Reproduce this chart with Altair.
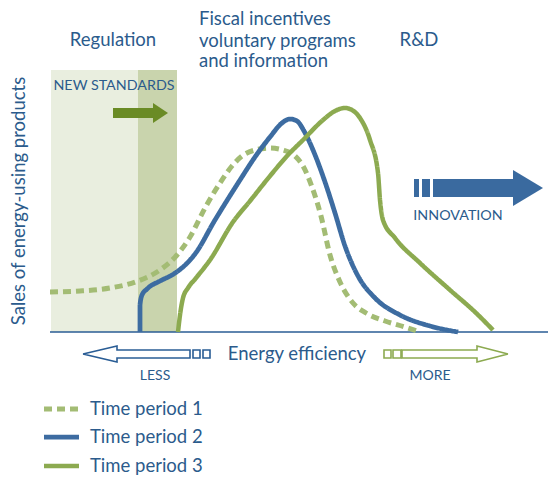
import altair as alt
import pandas as pd

# ---------------- data (pixel-like units) ----------------
series = ["Time period 1", "Time period 2", "Time period 3"]
colors = ["#a3bc74", "#3d6ca1", "#8caa50"]
dashes = [[8, 5], [1, 0], [1, 0]]
widths = [5, 4.5, 4]

p1_x = [50, 80, 110, 138, 160, 177, 190, 205, 220, 232, 242, 255, 270, 283, 295, 303, 312, 321, 330, 340, 353, 366, 385, 405, 420]
p1_y = [292, 291, 288, 281, 270, 255, 237, 208, 183, 166, 156, 150, 148, 150, 156, 166, 187, 216, 255, 282, 303, 313, 321, 327, 332]

p2_x = [140, 140, 142, 147, 160, 172, 183, 195, 215, 240, 255, 270, 282, 290, 297, 304, 313, 325, 335, 345, 358, 375, 400, 430, 458]
p2_y = [332, 305, 295, 289, 281, 275, 267, 254, 220, 180, 157, 137, 123, 119, 121, 131, 150, 182, 213, 246, 276, 298, 315, 326, 332]

p3_x = [178, 180, 183, 188, 196, 210, 233, 250, 270, 287, 303, 323, 335, 345, 352, 360, 370, 378, 380, 383, 395, 420, 450, 475, 493]
p3_y = [332, 315, 298, 288, 278, 260, 222, 201, 176, 156, 140, 120, 111, 108, 110, 118, 140, 173, 200, 220, 238, 263, 290, 312, 330]

curve_x = [p1_x, p2_x, p3_x]
curve_y = [p1_y, p2_y, p3_y]

# shaded regulation bands
band_x1 = [51, 138]
band_x2 = [138, 177]
band_y1 = [70, 70]
band_y2 = [332, 332]
band_col = ["#e9eedf", "#c9d4ad"]

# labels
lab_text = ["Regulation", "NEW STANDARDS", "R&D", "INNOVATION", "Energy efficiency", "LESS", "MORE"]
lab_x = [113, 114, 419, 458, 297, 155, 430]
lab_y = [40, 86, 40, 216, 354, 376, 376]
lab_size = [18.5, 14.3, 18.5, 14.3, 18.5, 14, 14]

left_text = ["Fiscal incentives", "voluntary programs", "and information"]
left_x = [199, 199, 199]
left_y = [25, 46.5, 67]   # text baselines

legend_y = [409, 437, 466]

# ---------------- frames ----------------
curves = pd.DataFrame([
    dict(series=s, x=x, y=y, i=i)
    for s, xs, ys in zip(series, curve_x, curve_y)
    for i, (x, y) in enumerate(zip(xs, ys))
])
bands = pd.DataFrame(dict(x=band_x1, x2=band_x2, y=band_y1, y2=band_y2, c=band_col))
labels = pd.DataFrame(dict(t=lab_text, x=lab_x, y=lab_y, s=lab_size))
lefts = pd.DataFrame(dict(t=left_text, x=left_x, y=left_y))
leg_lines = pd.DataFrame([
    dict(series=s, x=x, y=y) for s, y in zip(series, legend_y) for x in (44, 79)
])
leg_text = pd.DataFrame(dict(t=series, x=[90] * 3, y=legend_y))

X = alt.Scale(domain=[8, 548])
Y = alt.Scale(domain=[8, 478], reverse=True)
TXT = "#2b5b8c"
FONT = "Lato"
BIG = 18.5

def xq(f="x"):
    return alt.X(f"{f}:Q", scale=X, axis=None)

def yq(f="y"):
    return alt.Y(f"{f}:Q", scale=Y, axis=None)

band_layer = alt.Chart(bands).mark_rect().encode(
    x=xq(), x2="x2:Q", y=yq(), y2="y2:Q", color=alt.Color("c:N", scale=None)
)

baseline = alt.Chart(pd.DataFrame(dict(x=[50], x2=[556], y=[332]))).mark_rule(
    color="#2a5d95", strokeWidth=1.5
).encode(x=xq(), x2="x2:Q", y=yq())

enc_series = dict(
    color=alt.Color("series:N", scale=alt.Scale(domain=series, range=colors), legend=None),
    strokeDash=alt.StrokeDash("series:N", scale=alt.Scale(domain=series, range=dashes), legend=None),
    strokeWidth=alt.StrokeWidth("series:N", scale=alt.Scale(domain=series, range=widths), legend=None),
)

curve_layer = alt.Chart(curves).mark_line(interpolate="monotone").encode(
    x=xq(), y=yq(), order="i:Q", detail="series:N", **enc_series
)

leg_line_layer = alt.Chart(leg_lines).mark_line().encode(
    x=xq(), y=yq(), detail="series:N", **enc_series
)
leg_text_layer = alt.Chart(leg_text).mark_text(
    align="left", baseline="middle", font=FONT, fontSize=BIG, color=TXT
).encode(x=xq(), y=yq(), text="t:N")

label_layer = alt.Chart(labels).mark_text(
    align="center", baseline="middle", font=FONT, color=TXT
).encode(x=xq(), y=yq(), text="t:N", size=alt.Size("s:Q", scale=None))

left_layer = alt.Chart(lefts).mark_text(
    align="left", baseline="alphabetic", font=FONT, fontSize=BIG, color=TXT
).encode(x=xq(), y=yq(), text="t:N")

ytitle = alt.Chart(pd.DataFrame(dict(t=["Sales of energy-using products"], x=[19], y=[201]))).mark_text(
    angle=270, align="center", baseline="middle", font=FONT, fontSize=18.5, color=TXT
).encode(x=xq(), y=yq(), text="t:N")

# filled arrows: bodies (rects) and heads (areas)
f_body = pd.DataFrame(dict(
    x=[113, 414, 422, 433], x2=[154, 419, 430, 514], y=[108, 179, 179, 179], y2=[118, 197, 197, 197],
    c=["#6a8b25", "#3a6a9f", "#3a6a9f", "#3a6a9f"]))
f_head = pd.DataFrame(dict(
    a=["g", "g", "b", "b"], x=[153, 168, 513, 543], y=[103, 113, 170, 188], y2=[123, 113, 206, 188],
    c=["#6a8b25", "#6a8b25", "#3a6a9f", "#3a6a9f"]))
fbody_layer = alt.Chart(f_body).mark_rect().encode(
    x=xq(), x2="x2:Q", y=yq(), y2="y2:Q", color=alt.Color("c:N", scale=None))
fhead_layer = alt.Chart(f_head).mark_area(orient="vertical").encode(
    x=xq(), y=yq(), y2="y2:Q", detail="a:N", color=alt.Color("c:N", scale=None))

# outline arrows
o_arrow = pd.DataFrame(dict(
    a=["L"] * 8 + ["R"] * 8,
    i=list(range(8)) * 2,
    x=[83, 117, 117, 190, 190, 117, 117, 83, 508, 477, 477, 402, 402, 477, 477, 508],
    y=[354, 346, 350, 350, 358, 358, 362, 354, 354, 346, 350, 350, 358, 358, 362, 354],
    c=["#2a5d95"] * 8 + ["#8caa50"] * 8))
o_arrow_layer = alt.Chart(o_arrow).mark_line(strokeWidth=1.6, strokeJoin="miter").encode(
    x=xq(), y=yq(), order="i:Q", detail="a:N", color=alt.Color("c:N", scale=None))
o_box = pd.DataFrame(dict(
    x=[193, 203, 384, 393], x2=[200, 210, 391, 401], y=[350] * 4, y2=[358] * 4,
    c=["#2a5d95", "#2a5d95", "#8caa50", "#8caa50"]))
o_box_layer = alt.Chart(o_box).mark_rect(fill="white", strokeWidth=1.6).encode(
    x=xq(), x2="x2:Q", y=yq(), y2="y2:Q", stroke=alt.Stroke("c:N", scale=None))

chart = alt.layer(
    band_layer, label_layer, left_layer, ytitle, fbody_layer, fhead_layer,
    baseline, curve_layer, o_arrow_layer, o_box_layer, leg_line_layer, leg_text_layer
).properties(
    width=540, height=470, padding=0, autosize=alt.AutoSizeParams(type="none"), background="white"
).configure_view(stroke=None)

chart.save("out.html", embed_options={"renderer": "svg", "actions": False})
